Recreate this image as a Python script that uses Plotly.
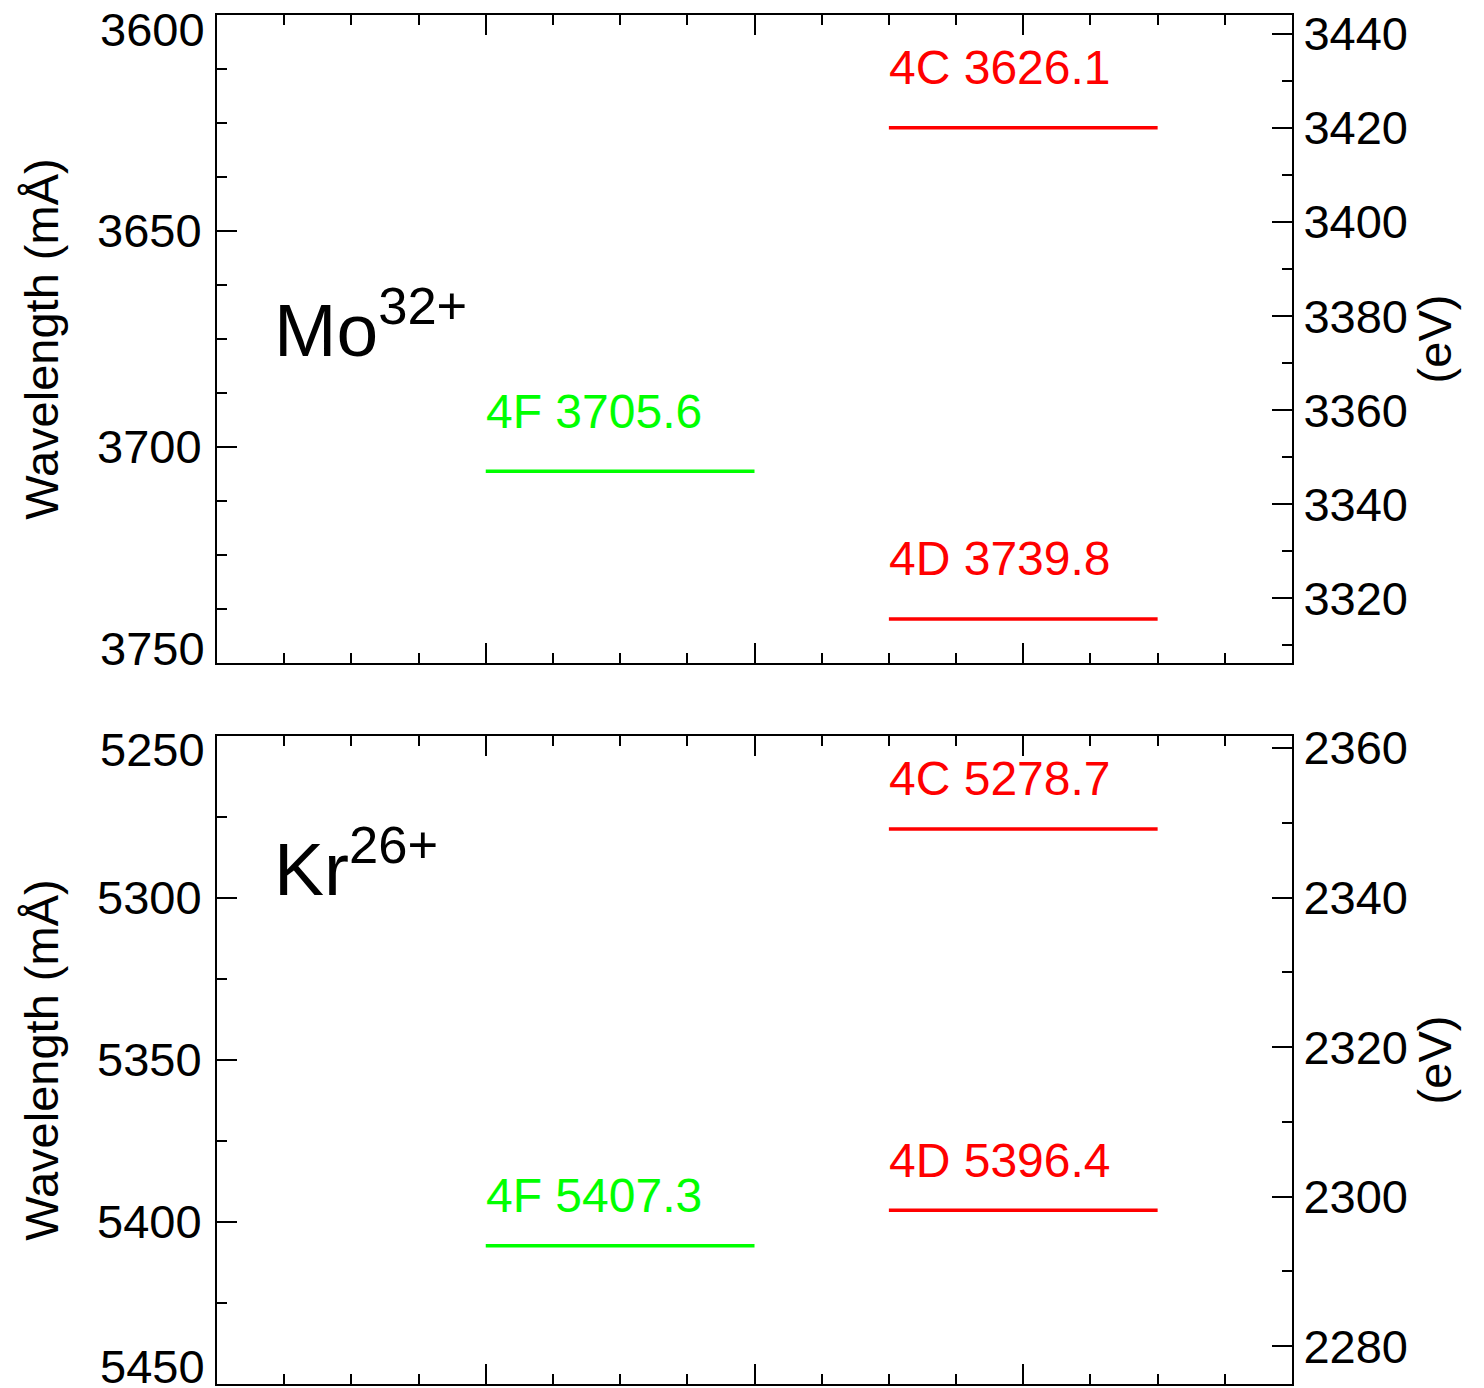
import plotly.graph_objects as go

HC = 12398.42  # eV * Angstrom

# ---------------- data ----------------
mo_labels = ["4F", "4C", "4D"]
mo_wavelengths = [3705.6, 3626.1, 3739.8]      # mÅ
kr_labels = ["4F", "4C", "4D"]
kr_wavelengths = [5407.3, 5278.7, 5396.4]      # mÅ

mo_wl_range = [3600, 3750]
kr_wl_range = [5250, 5450]
mo_wl_ticks = [3600, 3650, 3700, 3750]
kr_wl_ticks = [5250, 5300, 5350, 5400, 5450]
ev_major_step = 20
ev_minor_step = 10

# ---------------- style ----------------
FONT = "Liberation Sans, Arial, Helvetica, sans-serif"
FS = 47
LFS = 48
GREEN = "#00ff00"
RED = "#ff0000"
level_style = {"4F": dict(x0=1.0, x1=2.0, color=GREEN),
               "4C": dict(x0=2.5, x1=3.5, color=RED),
               "4D": dict(x0=2.5, x1=3.5, color=RED)}

W, H = 1484, 1388
xdom = [217 / W, 1292 / W]
ydom_top = [1 - 663 / H, 1 - 15 / H]
ydom_bot = [1 - 1384 / H, 1 - 736 / H]


def mA_to_ev(l):
    return HC / l * 1000.0


fig = go.Figure()
annotations = []

panels = [
    dict(ion="Mo<sup>32+</sup>", labels=mo_labels, wl=mo_wavelengths, rng=mo_wl_range,
         wlt=mo_wl_ticks, wlminor=12.5,
         xa="x", ya="y", ya2="y2", dom=ydom_top, lshift=60, ion_y=1 - 324 / H,
         end_shift=(-14, 15)),
    dict(ion="Kr<sup>26+</sup>", labels=kr_labels, wl=kr_wavelengths, rng=kr_wl_range,
         wlt=kr_wl_ticks, wlminor=25,
         xa="x2", ya="y3", ya2="y4", dom=ydom_bot, lshift=50, ion_y=1 - 863 / H,
         end_shift=(-13, 18)),
]

layout_axes = {}
for i, p in enumerate(panels):
    xname = "xaxis" if i == 0 else "xaxis2"
    yname = "yaxis" if i == 0 else "yaxis3"
    y2name = "yaxis2" if i == 0 else "yaxis4"
    for lab, wl in zip(p["labels"], p["wl"]):
        st = level_style[lab]
        fig.add_trace(go.Scatter(x=[st["x0"], st["x1"]], y=[wl, wl], mode="lines",
                                 line=dict(color=st["color"], width=3.5),
                                 xaxis=p["xa"], yaxis=p["ya"], showlegend=False,
                                 hoverinfo="skip"))
        annotations.append(dict(x=st["x0"], y=wl, xref=p["xa"], yref=p["ya"],
                                text=f"{lab} {wl:.1f}", showarrow=False,
                                xanchor="left", yanchor="middle", yshift=p["lshift"],
                                xshift=-2,
                                font=dict(family=FONT, size=LFS, color=st["color"])))
    # ion label
    annotations.append(dict(x=272 / W, y=p["ion_y"], xref="paper", yref="paper",
                            text=p["ion"], showarrow=False, xanchor="left",
                            yanchor="middle",
                            font=dict(family=FONT, size=75, color="black")))
    # end tick labels of the wavelength axis, nudged inward
    lo, hi = p["rng"]
    inner = [v for v in p["wlt"] if lo < v < hi]
    for v, sh in zip(p["rng"], p["end_shift"]):
        annotations.append(dict(x=xdom[0], y=v, xref="paper", yref=p["ya"],
                                text=str(v), showarrow=False, xanchor="right",
                                yanchor="middle", xshift=-10, yshift=sh,
                                font=dict(family=FONT, size=FS, color="black")))

    layout_axes[xname] = dict(domain=xdom, range=[0, 4], anchor=p["ya"], automargin=False,
                              showline=True, linecolor="black", linewidth=2,
                              mirror="ticks", ticks="inside", ticklen=20, tickwidth=2,
                              tickcolor="black", tickvals=[1, 2, 3],
                              showticklabels=False, showgrid=False, zeroline=False,
                              minor=dict(ticks="inside", dtick=0.25, tick0=0,
                                         ticklen=10, tickwidth=2, tickcolor="black",
                                         showgrid=False))
    layout_axes[yname] = dict(domain=p["dom"], range=[hi, lo], automargin=False,
                              anchor=p["xa"], showline=True, linecolor="black",
                              linewidth=2, ticks="inside", ticklen=20, tickwidth=2,
                              tickcolor="black", tickvals=inner,
                              ticktext=[str(v) for v in inner],
                              ticklabelstandoff=4,
                              showgrid=False, zeroline=False,
                              tickfont=dict(family=FONT, size=FS, color="black"),
                              title=dict(text="Wavelength (mÅ)", standoff=24,
                                         font=dict(family=FONT, size=FS, color="black")),
                              minor=dict(ticks="inside", dtick=p["wlminor"],
                                         tick0=lo, ticklen=10, tickwidth=2,
                                         tickcolor="black", showgrid=False))
    # energy axis: linear between the energies of the wavelength-range ends
    layout_axes[y2name] = dict(overlaying=p["ya"], side="right", anchor=p["xa"],
                               range=[mA_to_ev(hi), mA_to_ev(lo)], automargin=False,
                               showline=True, linecolor="black", linewidth=2,
                               ticks="inside", ticklen=20, tickwidth=2, tickcolor="black",
                               tick0=0, dtick=ev_major_step,
                               ticklabelstandoff=0,
                               showgrid=False, zeroline=False,
                               tickfont=dict(family=FONT, size=FS, color="black"),
                               title=dict(text="(eV)", standoff=4,
                                          font=dict(family=FONT, size=FS, color="black")),
                               minor=dict(ticks="inside", tick0=0, dtick=ev_minor_step,
                                          ticklen=10, tickwidth=2, tickcolor="black",
                                          showgrid=False))

# invisible traces so the overlaying energy axes are drawn
for p in panels:
    fig.add_trace(go.Scatter(x=[0], y=[mA_to_ev(sum(p["rng"]) / 2)], xaxis=p["xa"],
                             yaxis=p["ya2"], mode="markers", marker=dict(opacity=0),
                             showlegend=False, hoverinfo="skip"))

fig.update_layout(width=W, height=H, margin=dict(l=0, r=0, t=0, b=0, autoexpand=False),
                  paper_bgcolor="white", plot_bgcolor="white",
                  annotations=annotations, **layout_axes)

fig.write_html("out.html")
